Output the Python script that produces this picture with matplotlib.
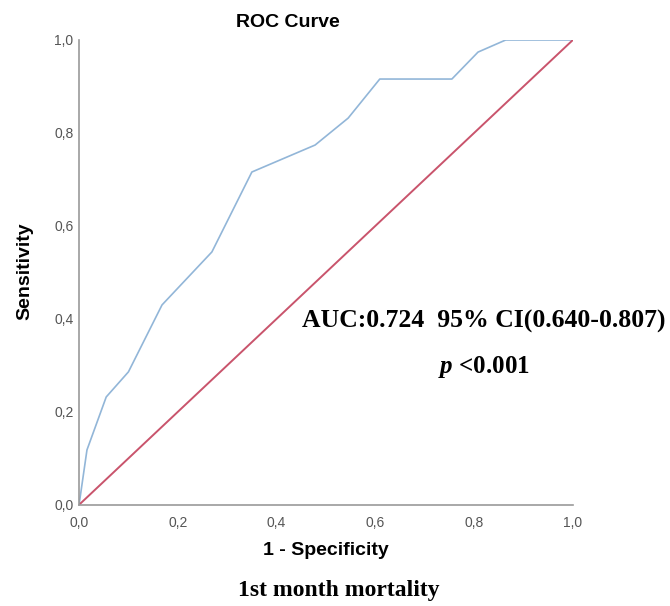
import matplotlib.pyplot as plt
from matplotlib.ticker import FuncFormatter

plt.rcParams["font.family"] = ["Liberation Sans", "DejaVu Sans"]
plt.rcParams["mathtext.fontset"] = "custom"
plt.rcParams["mathtext.it"] = "Liberation Serif:italic:bold"
plt.rcParams["mathtext.rm"] = "Liberation Serif:bold"

# ROC curve points
fpr = [0.0, 0.016, 0.055, 0.10, 0.168, 0.269, 0.35, 0.478, 0.545, 0.609, 0.755, 0.808, 0.864, 1.0]
tpr = [0.0, 0.118, 0.232, 0.286, 0.43, 0.544, 0.716, 0.774, 0.832, 0.916, 0.916, 0.974, 1.0, 1.0]
ref_line = [0.0, 1.0]

auc_text = "AUC:0.724  95% CI(0.640-0.807)"
ticks = [0.0, 0.2, 0.4, 0.6, 0.8, 1.0]

fig = plt.figure(figsize=(6.7, 6.06), dpi=100)
ax = fig.add_axes([0.118, 0.167, 0.737, 0.767])

ax.plot(fpr, tpr, color="#92b6d8", linewidth=1.2)
ax.plot(ref_line, ref_line, color="#c9546c", linewidth=1.4)

ax.set_xlim(0, 1)
ax.set_ylim(0, 1)
ax.set_xticks(ticks)
ax.set_yticks(ticks)
comma = FuncFormatter(lambda v, p: f"{v:.1f}".replace(".", ","))
ax.xaxis.set_major_formatter(comma)
ax.yaxis.set_major_formatter(comma)
ax.tick_params(length=0, labelsize=10, labelcolor="#555555")
ax.tick_params(axis="x", pad=8)
ax.tick_params(axis="y", pad=4)

for s in ["top", "right"]:
    ax.spines[s].set_visible(False)
for s in ["left", "bottom"]:
    ax.spines[s].set_color("#9a9a9a")
    ax.spines[s].set_linewidth(1.2)

fig.text(0.43, 0.963, "ROC Curve", ha="center", va="center",
         fontsize=14, fontweight="bold")
fig.text(0.487, 0.091, "1 - Specificity", ha="center", va="center",
         fontsize=14, fontweight="bold")
fig.text(0.037, 0.553, "Sensitivity", ha="center", va="center",
         fontsize=14, fontweight="bold", rotation=90)
fig.text(0.505, 0.025, "1st month mortality", ha="center", va="center",
         fontsize=17, fontweight="bold", family="Liberation Serif")

fig.text(0.722, 0.47, auc_text, ha="center", va="center",
         fontsize=18.5, fontweight="bold", family="Liberation Serif")
fig.text(0.722, 0.394, r"$p$ <0.001", ha="center", va="center",
         fontsize=18, fontweight="bold", family="Liberation Serif")

fig.savefig("out.png", dpi=100)
